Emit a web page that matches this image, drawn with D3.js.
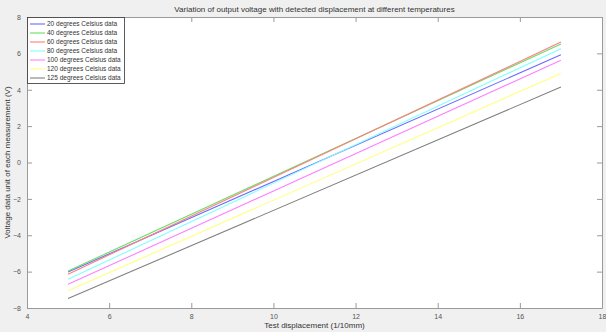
<!DOCTYPE html>
<html>
<head>
<meta charset="utf-8">
<script src="https://cdn.jsdelivr.net/npm/d3@7"></script>
<style>
  body { margin: 0; background: #f0f0f0; }
  text { font-family: "Liberation Sans", Arial, sans-serif; }
</style>
</head>
<body>
<div id="chart"></div>
<script>
const WIDTH = 606;
const HEIGHT = 332;

// data: each series is a straight line from x=5 to x=17
const xPoints = [5, 17];
const seriesNames = [
  '20 degrees Celsius data',
  '40 degrees Celsius data',
  '60 degrees Celsius data',
  '80 degrees Celsius data',
  '100 degrees Celsius data',
  '120 degrees Celsius data',
  '125 degrees Celsius data'
];
const v20 = [-6.02, 5.92];
const v40 = [-5.97, 6.52];
const v60 = [-6.14, 6.62];
const v80 = [-6.42, 6.26];
const v100 = [-6.70, 5.62];
const v120 = [-7.05, 4.90];
const v125 = [-7.48, 4.15];
const seriesValues = [v20, v40, v60, v80, v100, v120, v125];
const seriesColors = ['#6b6bff', '#66e066', '#ff7f7f', '#80ffff', '#ff80ff', '#ffff80', '#808080'];

const xTicks = [4, 6, 8, 10, 12, 14, 16, 18];
const yTicks = [-8, -6, -4, -2, 0, 2, 4, 6, 8];

const margins = { top: 17, right: 4, bottom: 24, left: 27 };

const svg = d3.select('#chart')
  .append('svg')
  .attr('width', WIDTH)
  .attr('height', HEIGHT);

svg.append('rect')
  .attr('width', WIDTH)
  .attr('height', HEIGHT)
  .attr('fill', '#f0f0f0');

const x = d3.scaleLinear().domain([4, 18]).range([margins.left, WIDTH - margins.right]);
const y = d3.scaleLinear().domain([-8, 8]).range([HEIGHT - margins.bottom, margins.top]);

// white plot area
svg.append('rect')
  .attr('x', x(4))
  .attr('y', y(8))
  .attr('width', x(18) - x(4))
  .attr('height', y(-8) - y(8))
  .attr('fill', 'white');

// axes with inward ticks, MATLAB style
const tickColor = '#9a9a9a';
const labelColor = '#555';
const styleAxis = g => {
  g.selectAll('path').attr('stroke', tickColor);
  g.selectAll('line').attr('stroke', tickColor);
  g.selectAll('text').attr('fill', labelColor).style('font-size', '7px');
};

svg.append('g')
  .attr('transform', `translate(0,${y(-8)})`)
  .call(d3.axisBottom(x).tickValues(xTicks).tickSizeInner(-5).tickSizeOuter(0).tickPadding(6))
  .call(styleAxis);
svg.append('g')
  .attr('transform', `translate(0,${y(8)})`)
  .call(d3.axisTop(x).tickValues(xTicks).tickSizeInner(-5).tickSizeOuter(0).tickFormat(''))
  .call(styleAxis);
svg.append('g')
  .attr('transform', `translate(${x(4)},0)`)
  .call(d3.axisLeft(y).tickValues(yTicks).tickSizeInner(-5).tickSizeOuter(0).tickPadding(6))
  .call(styleAxis);
svg.append('g')
  .attr('transform', `translate(${x(18)},0)`)
  .call(d3.axisRight(y).tickValues(yTicks).tickSizeInner(-5).tickSizeOuter(0).tickFormat(''))
  .call(styleAxis);

// series lines
const line = d3.line()
  .x((d, i) => x(xPoints[i]))
  .y(d => y(d));

svg.append('g')
  .attr('class', 'series')
  .selectAll('path')
  .data(seriesValues)
  .enter().append('path')
  .attr('d', d => line(d))
  .attr('fill', 'none')
  .attr('stroke', (d, i) => seriesColors[i])
  .attr('stroke-width', 1.1);

// title and axis labels
svg.append('text')
  .attr('x', (x(4) + x(18)) / 2)
  .attr('y', 12)
  .attr('text-anchor', 'middle')
  .attr('fill', '#333')
  .style('font-size', '8px')
  .text('Variation of output voltage with detected displacement at different temperatures');

svg.append('text')
  .attr('x', (x(4) + x(18)) / 2)
  .attr('y', 328)
  .attr('text-anchor', 'middle')
  .attr('fill', '#333')
  .style('font-size', '8px')
  .text('Test displacement (1/10mm)');

svg.append('text')
  .attr('transform', `translate(10,${(y(-8) + y(8)) / 2}) rotate(-90)`)
  .attr('text-anchor', 'middle')
  .attr('fill', '#333')
  .style('font-size', '8px')
  .text('Voltage data unit of each measurement (V)');

// legend
const legend = svg.append('g').attr('class', 'legend');
legend.append('rect')
  .attr('x', x(4) + 0.5)
  .attr('y', y(8) + 0.5)
  .attr('width', 97)
  .attr('height', 66)
  .attr('fill', 'white')
  .attr('stroke', '#333')
  .attr('stroke-width', 0.8);

const items = legend.selectAll('g.item')
  .data(seriesNames)
  .enter().append('g')
  .attr('class', 'item')
  .attr('transform', (d, i) => `translate(${x(4)}, ${y(8) + 7 + i * 9})`);
items.append('line')
  .attr('x1', 3).attr('x2', 18)
  .attr('stroke', (d, i) => seriesColors[i])
  .attr('stroke-width', 1.1);
items.append('text')
  .attr('x', 20)
  .attr('dy', '0.33em')
  .attr('fill', '#333')
  .style('font-size', '6.5px')
  .text(d => d);
</script>
</body>
</html>
